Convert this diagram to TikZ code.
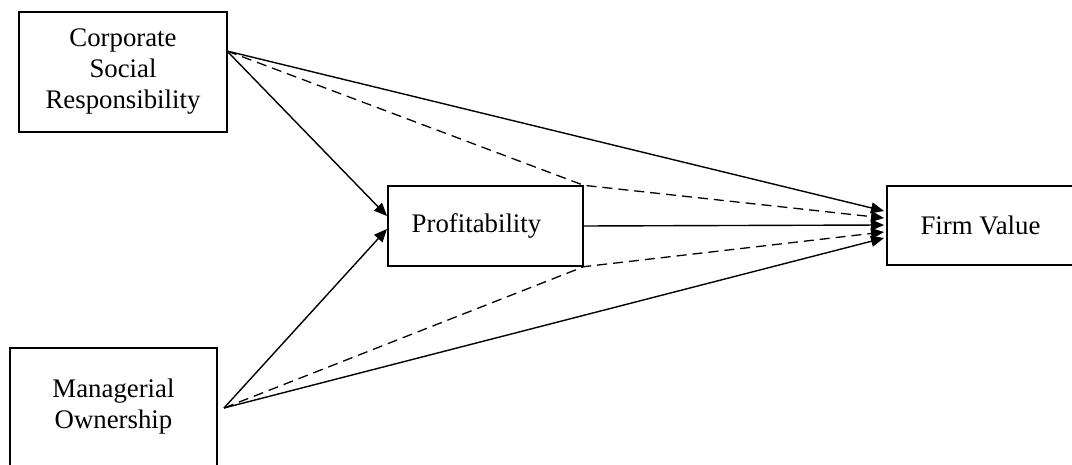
\documentclass[tikz,border=0pt]{standalone}
\usepackage{fontspec}
\setmainfont{Liberation Serif}
\usetikzlibrary{arrows.meta}
\begin{document}
\begin{tikzpicture}[x=1pt,y=-1pt,
  box/.style={draw=black,line width=1.4pt,rectangle,inner sep=0pt,align=center,
    font=\fontsize{26.8}{31}\selectfont},
  arr/.style={line width=1.4pt,-{Triangle[length=13pt,width=11pt]}},
  darr/.style={line width=1.3pt,dash pattern=on 10pt off 6pt,-{Triangle[length=13pt,width=11pt]}}]
\useasboundingbox (0,0) rectangle (1072,465);
\clip (0,0) rectangle (1072,465);
\node[box,minimum width=208pt,minimum height=120pt] (csr) at (123,72) {Corporate\\Social\\Responsibility};
\node[box,minimum width=207pt,minimum height=118pt] (mo) at (113.5,407) {Managerial\\Ownership};
\node[box,minimum width=195pt,minimum height=80pt] (prof) at (485.5,226) {\hspace*{-18pt}Profitability};
\node[box,minimum width=187pt,minimum height=79pt] (fv) at (980.5,225.5) {Firm Value};
\coordinate (csrO) at (227,51);
\coordinate (moO) at (224,408);
\coordinate (pinA) at (387,216);
\coordinate (pinB) at (387,229);
\coordinate (fA) at (884,211);
\coordinate (fB) at (884,218);
\coordinate (fC) at (884,225);
\coordinate (fD) at (884,232);
\coordinate (fE) at (884,238);
\draw[arr] (csrO) -- (pinA);
\draw[arr] (moO) -- (pinB);
\draw[arr] (csrO) -- (fA);
\draw[darr] (csrO) -- (prof.north east) -- (fB);
\draw[arr] (prof.east) -- (fC);
\draw[darr] (moO) -- (prof.south east) -- (fD);
\draw[arr] (moO) -- (fE);
\end{tikzpicture}
\end{document}
